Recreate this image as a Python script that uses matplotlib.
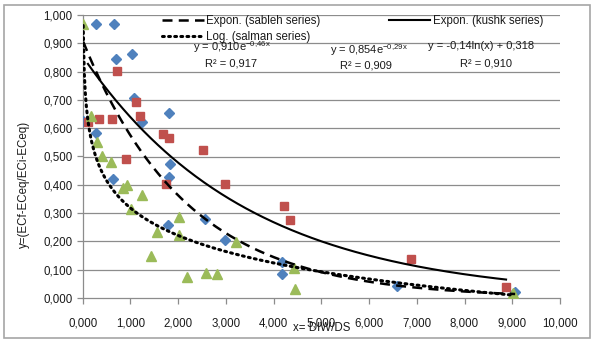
import numpy as np
import matplotlib
matplotlib.use("Agg")
import matplotlib.pyplot as plt
from matplotlib.patches import Rectangle
from matplotlib.ticker import FuncFormatter, MultipleLocator

plt.rcParams['font.family'] = ['Liberation Sans', 'DejaVu Sans']
plt.rcParams['mathtext.fontset'] = 'custom'
plt.rcParams['mathtext.rm'] = 'Liberation Sans'

# --- data: x = DIW/DS, y = (ECf-ECeq)/(ECi-ECeq) ---
sableh_x = [0.01, 0.28, 0.66, 0.70, 1.03, 1.08, 1.81, 1.24, 0.28, 0.63,
            1.83, 1.81, 2.57, 2.99, 1.79, 4.18, 4.18, 6.59, 9.06]
sableh_y = [0.627, 0.968, 0.968, 0.845, 0.862, 0.705, 0.652, 0.622, 0.583, 0.420,
            0.472, 0.426, 0.278, 0.205, 0.258, 0.127, 0.085, 0.043, 0.020]

kushk_x = [0.11, 0.34, 0.61, 0.72, 1.12, 1.20, 0.91, 1.69, 1.81, 2.52,
           1.75, 2.98, 4.22, 4.34, 6.88, 8.87]
kushk_y = [0.622, 0.632, 0.632, 0.802, 0.693, 0.643, 0.491, 0.580, 0.565, 0.523,
           0.403, 0.403, 0.325, 0.276, 0.138, 0.039]

salman_x = [0.01, 0.17, 0.29, 0.41, 0.59, 0.84, 0.93, 1.01, 1.24, 1.43,
            1.55, 2.01, 2.01, 2.18, 2.58, 2.81, 3.21, 4.42, 4.45, 9.02]
salman_y = [0.968, 0.643, 0.551, 0.502, 0.480, 0.389, 0.399, 0.314, 0.364, 0.148,
            0.233, 0.286, 0.223, 0.074, 0.088, 0.085, 0.198, 0.106, 0.032, 0.018]

# trendline coefficients
sableh_a, sableh_b = 0.910, -0.46     # y = a*exp(b*x)
kushk_a, kushk_b = 0.854, -0.29       # y = a*exp(b*x)
salman_k, salman_c = -0.14, 0.318     # y = k*ln(x) + c

x_ticks = np.arange(0, 10.001, 1.0)
y_ticks = np.arange(0, 1.0001, 0.1)

BLUE = '#4F81BD'
RED = '#C0504D'
GREEN = '#9BBB59'

fig = plt.figure(figsize=(5.93, 3.41), dpi=100)
fig.patches.append(Rectangle((4 / 593, 3 / 341), 586 / 593, 333 / 341,
                             transform=fig.transFigure, fill=False,
                             edgecolor='#A6A6A6', linewidth=1.2))

ax = fig.add_axes([82.7 / 593, 1 - 298 / 341, (560 - 82.7) / 593, (298 - 15) / 341])
ax.set_xlim(0, 10)
ax.set_ylim(0, 1)

for yv in y_ticks[1:]:
    ax.axhline(yv, color='#8C8C8C', linewidth=0.9, zorder=0)

ax.plot(sableh_x, sableh_y, linestyle='none', marker='D', markersize=5.2,
        color=BLUE, markeredgecolor=BLUE, zorder=3)
ax.plot(kushk_x, kushk_y, linestyle='none', marker='s', markersize=6.3,
        color=RED, markeredgecolor=RED, zorder=3)
ax.plot(salman_x, salman_y, linestyle='none', marker='^', markersize=7.5,
        color=GREEN, markeredgecolor=GREEN, zorder=3)

xs = np.linspace(min(sableh_x), max(sableh_x), 300)
l_sab, = ax.plot(xs, sableh_a * np.exp(sableh_b * xs), color='black', linewidth=1.8,
                 linestyle=(0, (4, 2.5)), zorder=4, label='Expon. (sableh series)')
xk = np.linspace(min(kushk_x), max(kushk_x), 300)
l_kus, = ax.plot(xk, kushk_a * np.exp(kushk_b * xk), color='black', linewidth=1.5,
                 linestyle='-', zorder=4, label='Expon. (kushk series)')
xl = np.linspace(min(salman_x), max(salman_x), 400)
l_sal, = ax.plot(xl, salman_k * np.log(xl) + salman_c, color='black', linewidth=2.2,
                 linestyle=(0, (0.6, 1.4)), dash_capstyle='round', zorder=4,
                 label='Log. (salman series)')

leg = ax.legend(handles=[l_sab, l_sal, l_kus], ncol=2, frameon=False,
                loc='upper left', bbox_to_anchor=(77 / 477.3, 1.0 + 2 / 283),
                fontsize=8.3, handlelength=3.6, handletextpad=0.25,
                columnspacing=5.9, labelspacing=0.35, borderaxespad=0,
                borderpad=0.2)
for t in leg.get_texts():
    t.set_color('#1a1a1a')

# trendline equations
eq_kw = dict(fontsize=8, color='#1a1a1a', ha='left', va='center',
             transform=fig.transFigure)
fig.text(193 / 593, 1 - 47 / 341, r'y = 0,910e$^{\mathrm{-0{,}46x}}$', **eq_kw)
fig.text(205 / 593, 1 - 63 / 341, 'R² = 0,917', **eq_kw)
fig.text(330 / 593, 1 - 50 / 341, r'y = 0,854e$^{\mathrm{-0{,}29x}}$', **eq_kw)
fig.text(340 / 593, 1 - 66 / 341, 'R² = 0,909', **eq_kw)
fig.text(428 / 593, 1 - 46 / 341, 'y = -0,14ln(x) + 0,318', **eq_kw)
fig.text(460 / 593, 1 - 63 / 341, 'R² = 0,910', **eq_kw)

fmt = FuncFormatter(lambda v, p: f'{v:.3f}'.replace('.', ','))
ax.xaxis.set_major_locator(MultipleLocator(1.0))
ax.yaxis.set_major_locator(MultipleLocator(0.1))
ax.xaxis.set_major_formatter(fmt)
ax.yaxis.set_major_formatter(fmt)
ax.tick_params(axis='both', labelsize=8.3, colors='#8C8C8C', labelcolor='#1a1a1a',
               length=4, width=0.9, direction='out')
ax.tick_params(axis='x', pad=10)

for side in ['top', 'right']:
    ax.spines[side].set_visible(False)
for side in ['left', 'bottom']:
    ax.spines[side].set_color('#8C8C8C')
    ax.spines[side].set_linewidth(0.9)

fig.text(24 / 593, 1 - 184 / 341, 'y=(ECf-ECeq/ECi-ECeq)', rotation=90,
         ha='center', va='center', fontsize=8.3, color='#1a1a1a')
fig.text(322 / 593, 1 - 328 / 341, 'x= DIW/DS', ha='center', va='center',
         fontsize=8.3, color='#1a1a1a')

fig.savefig('out.png', dpi=100)
